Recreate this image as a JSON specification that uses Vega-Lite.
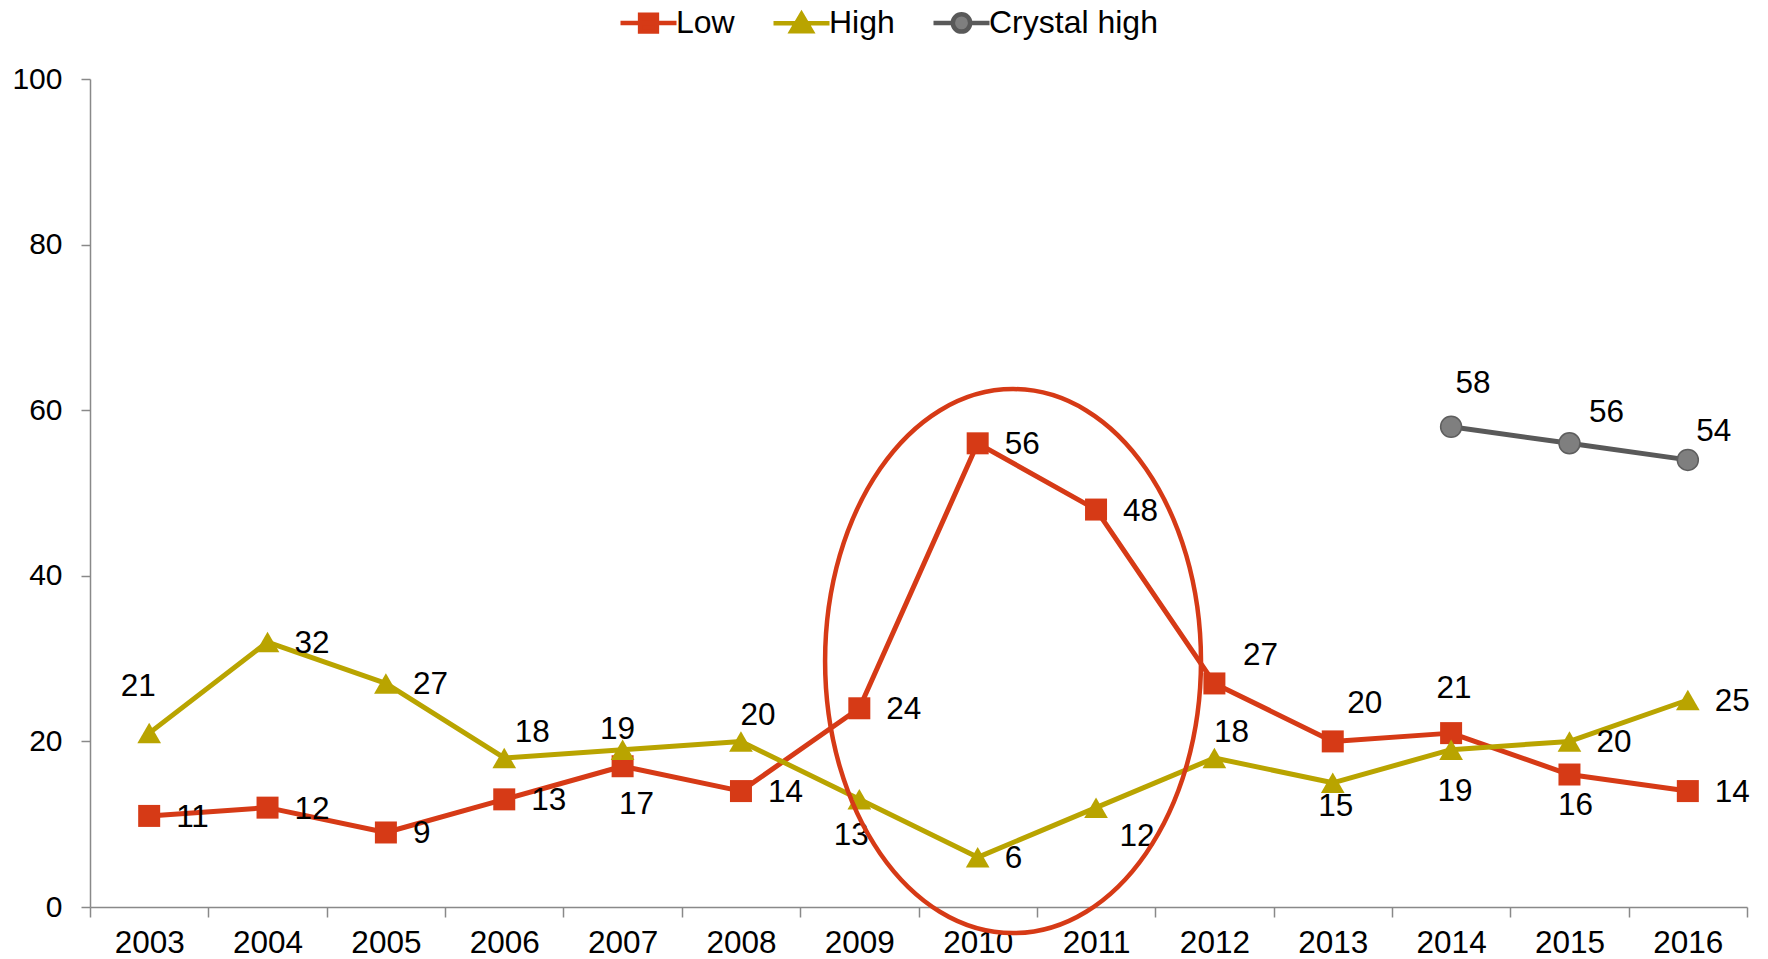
{
  "$schema": "https://vega.github.io/schema/vega-lite/v6.json",
  "autosize": {"type": "none"},
  "width": 1657,
  "height": 828,
  "padding": {"left": 90, "top": 79, "right": 21, "bottom": 52},
  "background": "#ffffff",
  "config": {
    "view": {"stroke": null},
    "font": "Liberation Sans",
    "legend": {
      "orient": "none", "legendX": 528, "legendY": -87, "direction": "horizontal",
      "symbolSize": 3136, "symbolStrokeWidth": 4.5, "symbolOpacity": 1,
      "labelFont": "Liberation Sans", "labelFontSize": 32, "labelColor": "#000000", "labelOffset": -3,
      "labelLimit": 400, "columnPadding": 29, "padding": 0
    }
  },
  "datasets": {
    "series": [
      {"year": "2003", "series": "Low", "value": 11},
      {"year": "2004", "series": "Low", "value": 12},
      {"year": "2005", "series": "Low", "value": 9},
      {"year": "2006", "series": "Low", "value": 13},
      {"year": "2007", "series": "Low", "value": 17},
      {"year": "2008", "series": "Low", "value": 14},
      {"year": "2009", "series": "Low", "value": 24},
      {"year": "2010", "series": "Low", "value": 56},
      {"year": "2011", "series": "Low", "value": 48},
      {"year": "2012", "series": "Low", "value": 27},
      {"year": "2013", "series": "Low", "value": 20},
      {"year": "2014", "series": "Low", "value": 21},
      {"year": "2015", "series": "Low", "value": 16},
      {"year": "2016", "series": "Low", "value": 14},
      {"year": "2003", "series": "High", "value": 21},
      {"year": "2004", "series": "High", "value": 32},
      {"year": "2005", "series": "High", "value": 27},
      {"year": "2006", "series": "High", "value": 18},
      {"year": "2007", "series": "High", "value": 19},
      {"year": "2008", "series": "High", "value": 20},
      {"year": "2009", "series": "High", "value": 13},
      {"year": "2010", "series": "High", "value": 6},
      {"year": "2011", "series": "High", "value": 12},
      {"year": "2012", "series": "High", "value": 18},
      {"year": "2013", "series": "High", "value": 15},
      {"year": "2014", "series": "High", "value": 19},
      {"year": "2015", "series": "High", "value": 20},
      {"year": "2016", "series": "High", "value": 25},
      {"year": "2014", "series": "Crystal high", "value": 58},
      {"year": "2015", "series": "Crystal high", "value": 56},
      {"year": "2016", "series": "Crystal high", "value": 54}
    ],
    "ellipse": [
      {"year": "2010", "value": 29.7}
    ]
  },
  "data": {"name": "series"},
  "encoding": {
    "x": {
      "field": "year", "type": "ordinal",
      "scale": {"type": "band", "paddingInner": 0, "paddingOuter": 0},
      "axis": {
        "title": null, "tickBand": "extent", "labelAngle": 0, "grid": false,
        "labelFont": "Liberation Sans", "labelFontSize": 31.5, "labelColor": "#000000",
        "tickSize": 10, "labelPadding": 10,
        "domainColor": "#898989", "tickColor": "#898989", "domainWidth": 1.5, "tickWidth": 1.5
      }
    },
    "y": {
      "field": "value", "type": "quantitative",
      "scale": {"domain": [0, 100], "nice": false},
      "axis": {
        "title": null, "values": [0, 20, 40, 60, 80, 100], "grid": false,
        "labelFont": "Liberation Sans", "labelFontSize": 30, "labelColor": "#000000",
        "tickSize": 9, "labelPadding": 19, "labelFlush": false, "labelOverlap": false,
        "domainColor": "#898989", "tickColor": "#898989", "domainWidth": 1.5, "tickWidth": 1.5
      }
    }
  },
  "layer": [
    {
      "mark": {"type": "point", "filled": true, "opacity": 0},
      "encoding": {
        "color": {"field": "series", "type": "nominal",
          "scale": {"domain": ["Low", "High", "Crystal high"], "range": ["#D63A16", "#B9A400", "#7F7F7F"]},
          "legend": {"title": null}},
        "stroke": {"field": "series", "type": "nominal",
          "scale": {"domain": ["Low", "High", "Crystal high"], "range": ["#D63A16", "#B9A400", "#595959"]},
          "legend": {"title": null}},
        "shape": {"field": "series", "type": "nominal",
          "scale": {"domain": ["Low", "High", "Crystal high"],
            "range": [
              "M-1,0H1M-0.3,-0.3H0.3V0.3H-0.3Z",
              "M-1,0H1M0,-0.33L0.36,0.28H-0.36Z",
              "M-1,0H-0.31M0.31,0H1M0.31,0C0.31,0.1712,0.1712,0.31,0,0.31C-0.1712,0.31,-0.31,0.1712,-0.31,0C-0.31,-0.1712,-0.1712,-0.31,0,-0.31C0.1712,-0.31,0.31,-0.1712,0.31,0Z"
            ]},
          "legend": {"title": null}}
      }
    },
    {
      "transform": [{"filter": "datum.series == 'Low'"}],
      "mark": {"type": "line", "strokeWidth": 5, "strokeJoin": "round", "stroke": "#D63A16"}
    },
    {
      "transform": [{"filter": "datum.series == 'Low'"}],
      "mark": {"type": "point", "shape": "square", "filled": true, "size": 484, "color": "#D63A16", "opacity": 1}
    },
    {
      "transform": [{"filter": "datum.series == 'High'"}],
      "mark": {"type": "line", "strokeWidth": 5, "strokeJoin": "round", "stroke": "#B9A400"}
    },
    {
      "transform": [{"filter": "datum.series == 'High'"}],
      "mark": {"type": "point", "shape": "triangle-up", "filled": true, "size": 560, "color": "#B9A400", "opacity": 1}
    },
    {
      "transform": [{"filter": "datum.series == 'Crystal high'"}],
      "mark": {"type": "line", "strokeWidth": 5, "strokeJoin": "round", "stroke": "#595959"}
    },
    {
      "transform": [{"filter": "datum.series == 'Crystal high'"}],
      "mark": {"type": "point", "shape": "circle", "filled": true, "size": 441, "fill": "#7F7F7F", "stroke": "#5E5E5E", "strokeWidth": 1.5, "opacity": 1}
    },
    {
      "transform": [{"filter": "indexof(['Low2003','Low2004','Low2005','Low2006','Low2008','Low2009','Low2010','Low2011','Low2016','High2004','High2005','High2010','High2015','High2016'], datum.series + datum.year) >= 0"}],
      "mark": {"type": "text", "font": "Liberation Sans", "fontSize": 31.5, "color": "#000000", "align": "left", "baseline": "middle", "dx": 27, "dy": 2},
      "encoding": {"text": {"field": "value", "type": "quantitative"}}
    },
    {
      "transform": [{"filter": "indexof(['High2008','High2012'], datum.series + datum.year) >= 0"}],
      "mark": {"type": "text", "font": "Liberation Sans", "fontSize": 31.5, "color": "#000000", "align": "center", "baseline": "middle", "dx": 17, "dy": -25},
      "encoding": {"text": {"field": "value", "type": "quantitative"}}
    },
    {
      "transform": [{"filter": "datum.series + datum.year == 'High2006'"}],
      "mark": {"type": "text", "font": "Liberation Sans", "fontSize": 31.5, "color": "#000000", "align": "center", "baseline": "middle", "dx": 28, "dy": -25},
      "encoding": {"text": {"field": "value", "type": "quantitative"}}
    },
    {
      "transform": [{"filter": "datum.series + datum.year == 'Low2014'"}],
      "mark": {"type": "text", "font": "Liberation Sans", "fontSize": 31.5, "color": "#000000", "align": "center", "baseline": "middle", "dx": 3, "dy": -44},
      "encoding": {"text": {"field": "value", "type": "quantitative"}}
    },
    {
      "transform": [{"filter": "datum.series + datum.year == 'High2003'"}],
      "mark": {"type": "text", "font": "Liberation Sans", "fontSize": 31.5, "color": "#000000", "align": "center", "baseline": "middle", "dx": -11, "dy": -46},
      "encoding": {"text": {"field": "value", "type": "quantitative"}}
    },
    {
      "transform": [{"filter": "datum.series + datum.year == 'High2007'"}],
      "mark": {"type": "text", "font": "Liberation Sans", "fontSize": 31.5, "color": "#000000", "align": "center", "baseline": "middle", "dx": -5, "dy": -20},
      "encoding": {"text": {"field": "value", "type": "quantitative"}}
    },
    {
      "transform": [{"filter": "datum.series + datum.year == 'Low2012'"}],
      "mark": {"type": "text", "font": "Liberation Sans", "fontSize": 31.5, "color": "#000000", "align": "center", "baseline": "middle", "dx": 46, "dy": -27},
      "encoding": {"text": {"field": "value", "type": "quantitative"}}
    },
    {
      "transform": [{"filter": "datum.series + datum.year == 'Low2013'"}],
      "mark": {"type": "text", "font": "Liberation Sans", "fontSize": 31.5, "color": "#000000", "align": "center", "baseline": "middle", "dx": 32, "dy": -37},
      "encoding": {"text": {"field": "value", "type": "quantitative"}}
    },
    {
      "transform": [{"filter": "datum.series + datum.year == 'Low2015'"}],
      "mark": {"type": "text", "font": "Liberation Sans", "fontSize": 31.5, "color": "#000000", "align": "center", "baseline": "middle", "dx": 6, "dy": 31},
      "encoding": {"text": {"field": "value", "type": "quantitative"}}
    },
    {
      "transform": [{"filter": "datum.series + datum.year == 'Low2007'"}],
      "mark": {"type": "text", "font": "Liberation Sans", "fontSize": 31.5, "color": "#000000", "align": "center", "baseline": "middle", "dx": 14, "dy": 39},
      "encoding": {"text": {"field": "value", "type": "quantitative"}}
    },
    {
      "transform": [{"filter": "datum.series + datum.year == 'High2013'"}],
      "mark": {"type": "text", "font": "Liberation Sans", "fontSize": 31.5, "color": "#000000", "align": "center", "baseline": "middle", "dx": 3, "dy": 24},
      "encoding": {"text": {"field": "value", "type": "quantitative"}}
    },
    {
      "transform": [{"filter": "datum.series + datum.year == 'High2014'"}],
      "mark": {"type": "text", "font": "Liberation Sans", "fontSize": 31.5, "color": "#000000", "align": "center", "baseline": "middle", "dx": 4, "dy": 42},
      "encoding": {"text": {"field": "value", "type": "quantitative"}}
    },
    {
      "transform": [{"filter": "datum.series + datum.year == 'High2009'"}],
      "mark": {"type": "text", "font": "Liberation Sans", "fontSize": 31.5, "color": "#000000", "align": "center", "baseline": "middle", "dx": -8, "dy": 37},
      "encoding": {"text": {"field": "value", "type": "quantitative"}}
    },
    {
      "transform": [{"filter": "datum.series + datum.year == 'High2011'"}],
      "mark": {"type": "text", "font": "Liberation Sans", "fontSize": 31.5, "color": "#000000", "align": "center", "baseline": "middle", "dx": 41, "dy": 29},
      "encoding": {"text": {"field": "value", "type": "quantitative"}}
    },
    {
      "transform": [{"filter": "datum.series + datum.year == 'Crystal high2014'"}],
      "mark": {"type": "text", "font": "Liberation Sans", "fontSize": 31.5, "color": "#000000", "align": "center", "baseline": "middle", "dx": 22, "dy": -43},
      "encoding": {"text": {"field": "value", "type": "quantitative"}}
    },
    {
      "transform": [{"filter": "datum.series + datum.year == 'Crystal high2015'"}],
      "mark": {"type": "text", "font": "Liberation Sans", "fontSize": 31.5, "color": "#000000", "align": "center", "baseline": "middle", "dx": 37, "dy": -30},
      "encoding": {"text": {"field": "value", "type": "quantitative"}}
    },
    {
      "transform": [{"filter": "datum.series + datum.year == 'Crystal high2016'"}],
      "mark": {"type": "text", "font": "Liberation Sans", "fontSize": 31.5, "color": "#000000", "align": "center", "baseline": "middle", "dx": 26, "dy": -28},
      "encoding": {"text": {"field": "value", "type": "quantitative"}}
    },
    {
      "data": {"name": "ellipse"},
      "mark": {"type": "point", "filled": false, "opacity": 1, "stroke": "#D63A16", "strokeWidth": 4.5,
        "size": 295936,
        "shape": "M0.821,0C0.821,0.5523,0.5117,1,0.13,1C-0.2517,1,-0.561,0.5523,-0.561,0C-0.561,-0.5523,-0.2517,-1,0.13,-1C0.5117,-1,0.821,-0.5523,0.821,0Z"}
    }
  ]
}
